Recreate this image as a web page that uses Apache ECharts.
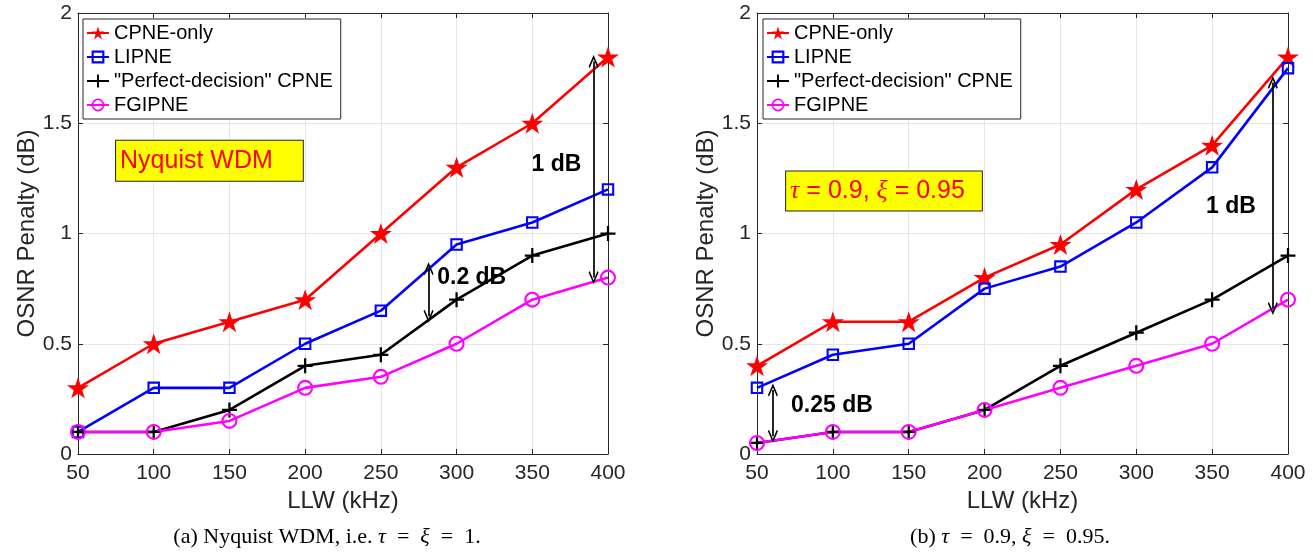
<!DOCTYPE html>
<html>
<head>
<meta charset="utf-8">
<script src="https://cdn.jsdelivr.net/npm/echarts@6/dist/echarts.min.js"></script>
<style>
  html, body { margin: 0; padding: 0; background: #fff; }
  #chart { width: 1313px; height: 552px; }
</style>
</head>
<body>
<div id="chart"></div>
<script>
// Laser linewidth sweep (kHz)
const llw = [50, 100, 150, 200, 250, 300, 350, 400];
const yTicks = [0, 0.5, 1, 1.5, 2];
const seriesNames = ['CPNE-only', 'LIPNE', '"Perfect-decision" CPNE', 'FGIPNE'];

// (a) Nyquist WDM, tau = xi = 1
const cpneOnlyA  = [0.3, 0.5, 0.6, 0.7, 1.0, 1.3, 1.5, 1.8];
const lipneA     = [0.1, 0.3, 0.3, 0.5, 0.65, 0.95, 1.05, 1.2];
const perfectA   = [0.1, 0.1, 0.2, 0.4, 0.45, 0.7, 0.9, 1.0];
const fgipneA    = [0.1, 0.1, 0.15, 0.3, 0.35, 0.5, 0.7, 0.8];

// (b) tau = 0.9, xi = 0.95
const cpneOnlyB  = [0.4, 0.6, 0.6, 0.8, 0.95, 1.2, 1.4, 1.8];
const lipneB     = [0.3, 0.45, 0.5, 0.75, 0.85, 1.05, 1.3, 1.75];
const perfectB   = [0.05, 0.1, 0.1, 0.2, 0.4, 0.55, 0.7, 0.9];
const fgipneB    = [0.05, 0.1, 0.1, 0.2, 0.3, 0.4, 0.5, 0.7];

// Double-headed gap arrows: [LLW, upper penalty, lower penalty]
const arrowsA = [[390.5, 1.78, 0.80], [281.5, 0.84, 0.625]];
const arrowsB = [[390, 1.685, 0.66], [60.5, 0.29, 0.08]];

// Gap annotations: [LLW, penalty, text]
const notesA = [[366, 1.31, '1 dB'], [310, 0.80, '0.2 dB']];
const notesB = [[362.4, 1.12, '1 dB'], [99.4, 0.22, '0.25 dB']];

// Scenario boxes: [LLW, penalty]
const boxA = [136.8, 1.33];
const boxB = [133.7, 1.193];

const SANS = 'Liberation Sans, Arial, Helvetica, sans-serif';
const SERIF = 'Liberation Serif, Times New Roman, serif';
const AXIS_COLOR = '#262626';

const STAR = 'path://M50,0 L61.2,34.5 L97.6,34.5 L68.2,55.9 L79.4,90.5 L50,69.1 L20.6,90.5 L31.8,55.9 L2.4,34.5 L38.8,34.5 Z';
const SQUARE = 'path://M0,0 L20,0 L20,20 L0,20 Z M3.3,3.3 L3.3,16.7 L16.7,16.7 L16.7,3.3 Z';
const RING = 'path://M0,10 A10,10 0 1 1 20,10 A10,10 0 1 1 0,10 Z M2.6,10 A7.4,7.4 0 1 0 17.4,10 A7.4,7.4 0 1 0 2.6,10 Z';
const PLUS = 'path://M8.5,0 L11.5,0 L11.5,8.5 L20,8.5 L20,11.5 L11.5,11.5 L11.5,20 L8.5,20 L8.5,11.5 L0,11.5 L0,8.5 L8.5,8.5 Z';
const CHEVRON = 'path://M10,0 L20,13 L17.8,14.6 L10,4.4 L2.2,14.6 L0,13 Z';

const styles = [
  { color: '#ff0000', symbol: STAR, size: [22, 21] },
  { color: '#0000ff', symbol: SQUARE, size: 12.5 },
  { color: '#000000', symbol: PLUS, size: 15 },
  { color: '#ff00ff', symbol: RING, size: 16 }
];

const grids = [
  { left: 78, top: 13, width: 530, height: 441 },
  { left: 757, top: 13, width: 531, height: 441 }
];

function mainX(gi) {
  return {
    gridIndex: gi, type: 'value', min: 50, max: 400, interval: 50,
    axisLine: { show: true, onZero: false, lineStyle: { color: AXIS_COLOR, width: 1 } },
    axisTick: { show: true, inside: true, length: 5, lineStyle: { color: AXIS_COLOR } },
    axisLabel: { fontSize: 21, color: AXIS_COLOR, fontFamily: SANS, margin: 9 },
    splitLine: { show: true, lineStyle: { color: '#e6e6e6', width: 1 } },
    name: 'LLW (kHz)', nameLocation: 'middle', nameGap: 30,
    nameTextStyle: { fontSize: 24, color: AXIS_COLOR, fontFamily: SANS }
  };
}
function frameX(gi) {
  return {
    gridIndex: gi, type: 'value', position: 'top', min: 50, max: 400, interval: 50,
    axisLine: { show: true, onZero: false, lineStyle: { color: AXIS_COLOR, width: 1 } },
    axisTick: { show: true, inside: true, length: 5, lineStyle: { color: AXIS_COLOR } },
    axisLabel: { show: false }, splitLine: { show: false }
  };
}
function mainY(gi) {
  return {
    gridIndex: gi, type: 'value', min: yTicks[0], max: yTicks[yTicks.length - 1], interval: 0.5,
    axisLine: { show: true, onZero: false, lineStyle: { color: AXIS_COLOR, width: 1 } },
    axisTick: { show: true, inside: true, length: 5, lineStyle: { color: AXIS_COLOR } },
    axisLabel: { fontSize: 21, color: AXIS_COLOR, fontFamily: SANS, margin: 6 },
    splitLine: { show: true, lineStyle: { color: '#e6e6e6', width: 1 } },
    name: 'OSNR Penalty (dB)', nameLocation: 'middle', nameGap: 36,
    nameTextStyle: { fontSize: 24, color: AXIS_COLOR, fontFamily: SANS }
  };
}
function frameY(gi) {
  return {
    gridIndex: gi, type: 'value', position: 'right', min: 0, max: 2, interval: 0.5,
    axisLine: { show: true, onZero: false, lineStyle: { color: AXIS_COLOR, width: 1 } },
    axisTick: { show: true, inside: true, length: 5, lineStyle: { color: AXIS_COLOR } },
    axisLabel: { show: false }, splitLine: { show: false }
  };
}

function panelSeries(gi, values, arrows, notes, box, boxText, boxRich, boxPad) {
  return values.map((vals, k) => {
    const st = styles[k];
    const s = {
      name: seriesNames[k], type: 'line',
      xAxisIndex: gi * 2, yAxisIndex: gi * 2,
      data: llw.map((x, i) => [x, vals[i]]),
      symbol: st.symbol, symbolSize: st.size, showSymbol: true,
      lineStyle: { color: st.color, width: 2.6 },
      itemStyle: { color: st.color },
      animation: false, silent: true
    };
    if (k === values.length - 1) {
      s.markLine = {
        silent: true, animation: false,
        symbol: [CHEVRON, CHEVRON], symbolSize: [10, 13],
        lineStyle: { color: '#000', width: 1.7, type: 'solid', opacity: 1 },
        label: { show: false },
        data: arrows.map(a => [{ coord: [a[0], a[1]] }, { coord: [a[0], a[2]] }])
      };
      const pts = notes.map(n => ({
        coord: [n[0], n[1]],
        label: {
          show: true, position: 'inside', formatter: n[2],
          fontSize: 23, fontWeight: 'bold', color: '#000', fontFamily: SANS
        }
      }));
      pts.push({
        coord: box,
        label: {
          show: true, position: 'inside', formatter: boxText,
          fontSize: 25, color: '#ff0000', fontFamily: SANS,
          backgroundColor: '#ffff00', borderColor: AXIS_COLOR, borderWidth: 1,
          padding: boxPad, rich: boxRich
        }
      });
      s.markPoint = {
        silent: true, animation: false,
        symbol: 'circle', symbolSize: 1,
        itemStyle: { color: 'rgba(0,0,0,0)' },
        data: pts
      };
    }
    return s;
  });
}

const richGreek = {
  g: { fontStyle: 'italic', fontFamily: SERIF, fontSize: 26, color: '#ff0000' }
};

const legendBase = {
  orient: 'vertical', top: 19, selectedMode: false,
  data: seriesNames, itemWidth: 22, itemHeight: 16, itemGap: 4,
  padding: [4, 8, 4, 3],
  backgroundColor: '#fff', borderColor: AXIS_COLOR, borderWidth: 1,
  textStyle: { fontSize: 20, color: '#000', fontFamily: SANS, lineHeight: 20 }
};

const captionRich = { m: { fontStyle: 'italic', fontSize: 22, fontFamily: SERIF } };

const option = {
  animation: false,
  backgroundColor: '#fff',
  grid: grids,
  xAxis: [mainX(0), frameX(0), mainX(1), frameX(1)],
  yAxis: [mainY(0), frameY(0), mainY(1), frameY(1)],
  legend: [
    Object.assign({}, legendBase, { left: 83 }),
    Object.assign({}, legendBase, { left: 763 })
  ],
  series: [].concat(
    panelSeries(0, [cpneOnlyA, lipneA, perfectA, fgipneA], arrowsA, notesA,
      boxA, 'Nyquist WDM', {}, [8, 30, 7, 4]),
    panelSeries(1, [cpneOnlyB, lipneB, perfectB, fgipneB], arrowsB, notesB,
      boxB, '{g|τ} = 0.9, {g|ξ} = 0.95', richGreek, [7, 17, 6, 4])
  ),
  graphic: [
    {
      type: 'text', x: 327, y: 537, silent: true,
      style: {
        text: '(a) Nyquist WDM, i.e. {m|τ}  =  {m|ξ}  =  1.',
        fontSize: 22, fontFamily: SERIF, fill: '#000',
        align: 'center', verticalAlign: 'middle', rich: captionRich
      }
    },
    {
      type: 'text', x: 1010, y: 537, silent: true,
      style: {
        text: '(b) {m|τ}  =  0.9, {m|ξ}  =  0.95.',
        fontSize: 22, fontFamily: SERIF, fill: '#000',
        align: 'center', verticalAlign: 'middle', rich: captionRich
      }
    }
  ]
};

const chart = echarts.init(document.getElementById('chart'), null, { renderer: 'canvas' });
chart.setOption(option);
</script>
</body>
</html>
